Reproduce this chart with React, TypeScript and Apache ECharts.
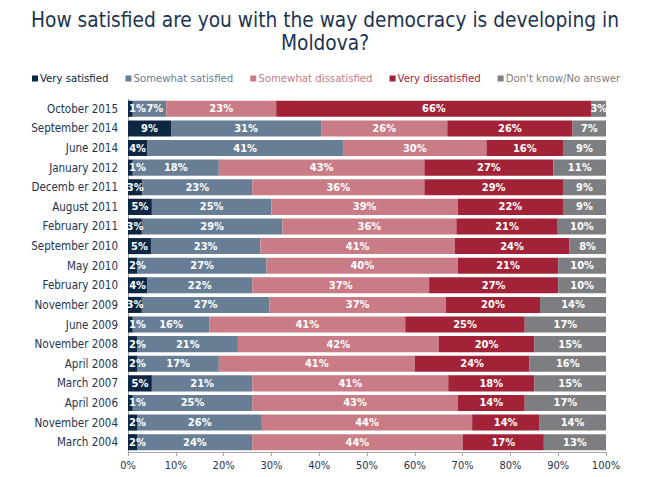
import { useEffect, useRef } from 'react';
import * as echarts from 'echarts';

const categories = [
  'October 2015',
  'September 2014',
  'June 2014',
  'January 2012',
  'Decemb er 2011',
  'August 2011',
  'February 2011',
  'September 2010',
  'May 2010',
  'February 2010',
  'November 2009',
  'June 2009',
  'November 2008',
  'April 2008',
  'March 2007',
  'April 2006',
  'November 2004',
  'March 2004'
];

// shares in %, labels are shown rounded
const verySatisfied = [1, 9, 4, 1, 3, 5, 2.9, 4.8, 2, 4, 2.9, 1, 2, 2, 5, 1, 2, 2];
const somewhatSatisfied = [7, 31.4, 41, 18, 23, 25, 29.4, 22.9, 27, 22, 26.7, 16, 21, 17, 21, 25, 26, 24];
const somewhatDissatisfied = [23, 26.4, 30, 43, 36, 39, 36.4, 40.7, 40, 37, 36.9, 41, 42, 41, 41, 43, 44, 44];
const veryDissatisfied = [66, 26.2, 16, 27, 29, 22, 21.2, 23.9, 21, 27, 19.7, 25, 20, 24, 18, 14, 14, 17];
const dontKnow = [3, 7, 9, 11, 9, 9, 10.1, 7.7, 10, 10, 13.8, 17, 15, 16, 15, 17, 14, 13];

const seriesNames = [
  'Very satisfied',
  'Somewhat satisfied',
  'Somewhat dissatisfied',
  'Very dissatisfied',
  "Don't know/No answer"
];
const seriesColors = ['#0d2743', '#687e95', '#c97b86', '#a22337', '#7d7e81'];

const FONT = '"DejaVu Sans Condensed", "DejaVu Sans", sans-serif';
const NAVY = '#1c3452';

const App = () => {
  const chartRef = useRef<HTMLDivElement>(null);

  useEffect(() => {
    if (!chartRef.current) return;
    const chart = echarts.init(chartRef.current, null, { renderer: 'svg' });

    const allValues = [verySatisfied, somewhatSatisfied, somewhatDissatisfied, veryDissatisfied, dontKnow];

    // tiny first segments get their label pushed off the axis, and the next
    // label moves right when it would collide with it
    const labelFor = (i: number, idx: number, v: number) => {
      if (i === 0 && v <= 2) return { position: 'insideLeft', distance: 1 };
      if (i === 1 && verySatisfied[idx] <= 1 && v < 10) return { position: 'insideRight', distance: 3 };
      return null;
    };

    const series = allValues.map((values, i) => ({
      name: seriesNames[i],
      type: 'bar',
      stack: 'total',
      barCategoryGap: '18%',
      itemStyle: { color: seriesColors[i] },
      label: {
        show: true,
        position: 'inside',
        color: '#ffffff',
        fontFamily: FONT,
        fontSize: 11,
        fontWeight: 'bold',
        formatter: (p: any) => Math.round(p.value) + '%'
      },
      data: values.map((v, idx) => {
        const lbl = labelFor(i, idx, v);
        return lbl ? { value: v, label: lbl } : v;
      })
    }));

    const option = {
      animation: false,
      title: {
        text: 'How satisfied are you with the way democracy is developing in\nMoldova?',
        left: 'center',
        top: 3,
        textStyle: {
          color: NAVY,
          fontFamily: FONT,
          fontSize: 20.7,
          fontWeight: 'normal',
          lineHeight: 23
        }
      },
      legend: {
        top: 68,
        left: 27,
        right: 0,
        itemWidth: 6,
        itemHeight: 6,
        itemGap: 17,
        icon: 'rect',
        data: seriesNames.map((name, i) => ({
          name,
          textStyle: { color: seriesColors[i] }
        })),
        textStyle: { fontFamily: FONT, fontSize: 11.3, padding: [0, 0, 0, -3] }
      },
      grid: { left: 128, right: 44, top: 99, bottom: 25, containLabel: false },
      xAxis: {
        type: 'value',
        min: 0,
        max: 100,
        interval: 10,
        axisLine: { show: true, lineStyle: { color: '#a6a6a6' } },
        axisTick: { show: true, length: 4, lineStyle: { color: '#a6a6a6' } },
        splitLine: { show: false },
        axisLabel: {
          formatter: '{value}%',
          color: NAVY,
          fontFamily: FONT,
          fontSize: 11,
          margin: 8
        }
      },
      yAxis: {
        type: 'category',
        inverse: true,
        data: categories,
        axisLine: { show: true, lineStyle: { color: '#a6a6a6' } },
        axisTick: { show: false },
        axisLabel: {
          color: NAVY,
          fontFamily: FONT,
          fontSize: 11.5,
          margin: 10
        }
      },
      series
    };

    chart.setOption(option);

    return () => {
      chart.dispose();
    };
  }, []);

  return (
    <div
      ref={chartRef}
      style={{ position: 'absolute', left: 0, top: 0, width: '650px', height: '477px', background: '#fff' }}
    />
  );
};

export default App;
